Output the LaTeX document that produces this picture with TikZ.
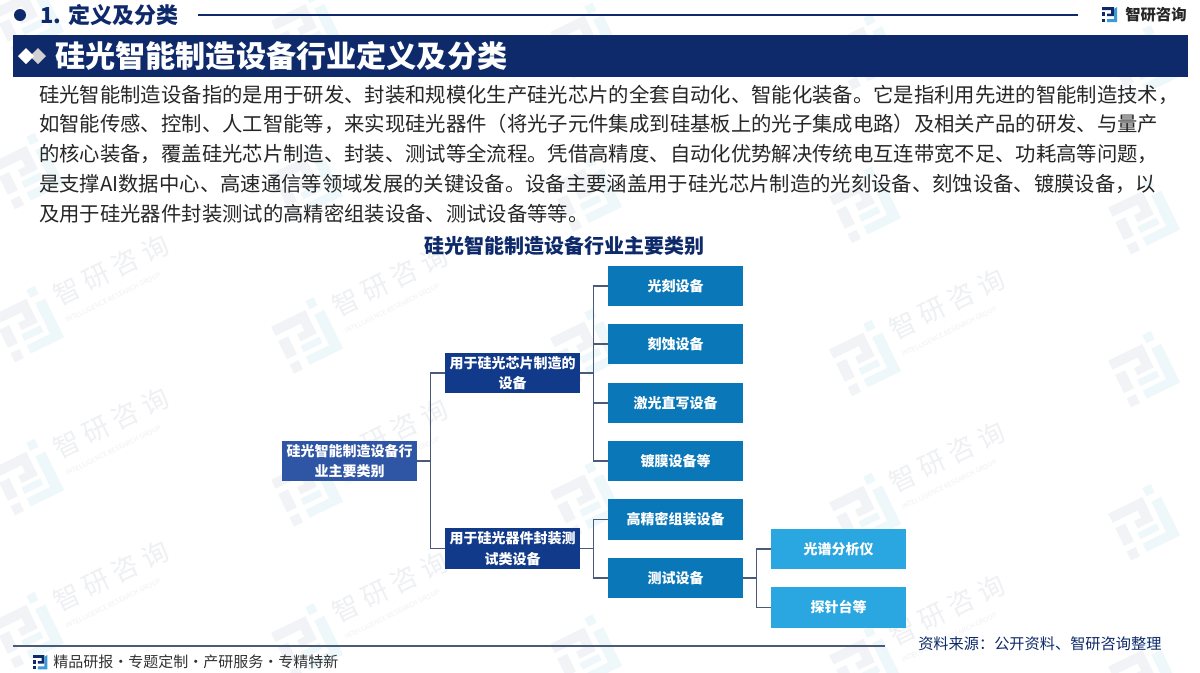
\documentclass[tikz,border=0pt]{standalone}
\usepackage{fontspec}
\setmainfont{Noto Sans CJK SC}
\definecolor{navy}{HTML}{0E2A6A}
\definecolor{rootc}{HTML}{2F55A5}
\definecolor{midc}{HTML}{123A8A}
\definecolor{leafc}{HTML}{0A78B8}
\definecolor{subc}{HTML}{2AA7E0}
\definecolor{linec}{HTML}{4A5A78}
\definecolor{wmg}{HTML}{F1F3F6}
\definecolor{wmb}{HTML}{EEF7FA}
\definecolor{wmt}{HTML}{EFF0F3}
\definecolor{logob}{HTML}{3C9AD6}
\tikzset{
 x=0.75pt,y=-0.75pt,
 boxbase/.style={minimum width=101.25pt,minimum height=30.4pt,inner sep=0pt,align=center,text=white,font=\fontsize{10.5pt}{15.5pt}\selectfont\bfseries},
 rootbox/.style={boxbase,fill=rootc},
 midbox/.style={boxbase,fill=midc},
 leafbox/.style={boxbase,fill=leafc},
 subbox/.style={boxbase,fill=subc},
 conn/.style={draw=linec,line width=0.9pt},
 bodyline/.style={anchor=west,inner sep=0pt,text=black!85,font=\fontsize{15.26pt}{18pt}\selectfont},
 pics/wmlogo/.style={code={
   \fill[wmg] (-28,-22) -- (10,-22) -- (10,4) -- (-8,4) -- (-8,-4) -- (0,-4) -- (0,-12) -- (-28,-12) -- cycle;
   \fill[wmg] (-28,-6) rectangle (-17,14);
   \fill[wmg] (-28,20) rectangle (-18,30);
   \fill[wmb] (14,-30) rectangle (23,-21);
   \fill[wmb] (16,-14) -- (27,-14) -- (27,29) -- (-10,29) -- (-10,20) -- (16,20) -- cycle;
   \fill[wmb] (-10,8) rectangle (11,15);
 }},
 pics/wmtext/.style={code={
   \node[wmt,inner sep=0pt,anchor=west,font=\fontsize{20pt}{20pt}\selectfont] at (36,-11) {智\hspace{4.5pt}研\hspace{4.5pt}咨\hspace{4.5pt}询};
   \node[wmt,inner sep=0pt,anchor=west,font=\fontsize{5pt}{6pt}\selectfont] at (36,15) {INTELLIGENCE RESEARCH GROUP};
 }},
 pics/brand/.style={code={
   \fill[navy] (0,0) -- (12,0) -- (12,9) -- (5,9) -- (5,6.5) -- (9,6.5) -- (9,3) -- (0,3) -- cycle;
   \fill[navy] (0,5) rectangle (3,9);
   \fill[navy] (0,12) rectangle (3,15);
   \fill[logob] (5,12) -- (12,12) -- (12,2) -- (15,0) -- (15,15) -- (5,15) -- cycle;
 }},
}
\begin{document}
\begin{tikzpicture}
\useasboundingbox (0,0) rectangle (1200,672);
\fill[white] (0,0) rectangle (1200,672);
% watermark logos
\foreach \i in {0,1,2,3,4}{
 \foreach \j in {-2,-1,0,1,2}{
  \pgfmathsetmacro{\px}{27+279*\i}
  \pgfmathsetmacro{\py}{323+11.3*\i+153*\j}
  \pic[rotate=26,transform shape] at (\px,\py) {wmlogo};
 }
}
% watermark texts, where the page is otherwise free
\foreach \px/\py in {27/323,306/334,863/357,27/476,306/487,863/510,27/629,306/640,863/663}{
  \pic[rotate=26,transform shape] at (\px,\py) {wmtext};
}
% header
\fill[navy] (20,15) circle (6);
\node[anchor=west,inner sep=0pt,text=navy,font=\fontsize{16.5pt}{18pt}\selectfont\bfseries] (sect) at (40,15) {1. 定义及分类};
\coordinate (ruleA) at (198,15);
\coordinate (ruleB) at (1078,15);
\draw[navy,line width=0.9pt] (ruleA) -- (ruleB);
\pic at (1102,7) {brand};
\node[anchor=west,inner sep=0pt,text=black!85,font=\fontsize{11.5pt}{14pt}\selectfont\bfseries] (brandname) at (1125,15) {智研咨询};
\fill[navy] (13,35) rectangle (1188,77);
\fill[white!82!black] (30,56) -- (38,48) -- (46,56) -- (38,64) -- cycle;
\fill[white] (18,56) -- (26,48) -- (34,56) -- (26,64) -- cycle;
\node[anchor=west,inner sep=0pt,text=white,font=\fontsize{22.6pt}{26pt}\selectfont\bfseries] (title) at (55,56) {硅光智能制造设备行业定义及分类};
% body
\node[bodyline] (l1) at (39,95) {硅光智能制造设备指的是用于研发、封装和规模化生产硅光芯片的全套自动化、智能化装备。它是指利用先进的智能制造技术，};
\node[bodyline] (l2) at (39,124) {如智能传感、控制、人工智能等，来实现硅光器件（将光子元件集成到硅基板上的光子集成电路）及相关产品的研发、与量产};
\node[bodyline] (l3) at (39,154) {的核心装备，覆盖硅光芯片制造、封装、测试等全流程。凭借高精度、自动化优势解决传统电互连带宽不足、功耗高等问题，};
\node[bodyline] (l4) at (39,184) {是支撑AI数据中心、高速通信等领域发展的关键设备。设备主要涵盖用于硅光芯片制造的光刻设备、刻蚀设备、镀膜设备，以};
\node[bodyline] (l5) at (39,214) {及用于硅光器件封装测试的高精密组装设备、测试设备等等。};
\node[inner sep=0pt,text=navy,font=\fontsize{15pt}{18pt}\selectfont\bfseries] (ctitle) at (564,246) {硅光智能制造设备行业主要类别};
% tree
\node[rootbox] (root) at (349.5,461) {硅光智能制造设备行\\业主要类别};
\node[midbox] (a) at (512.5,373) {用于硅光芯片制造的\\设备};
\node[midbox] (b) at (512.5,548.5) {用于硅光器件封装测\\试类设备};
\node[leafbox] (a1) at (675.5,286) {光刻设备};
\node[leafbox] (a2) at (675.5,344) {刻蚀设备};
\node[leafbox] (a3) at (675.5,403) {激光直写设备};
\node[leafbox] (a4) at (675.5,461) {镀膜设备等};
\node[leafbox] (b1) at (675.5,519.5) {高精密组装设备};
\node[leafbox] (b2) at (675.5,578) {测试设备};
\node[subbox] (c1) at (838.5,549) {光谱分析仪};
\node[subbox] (c2) at (838.5,607.5) {探针台等};
\foreach \t in {a,b}{\draw[conn] (root.east) -- ++(13.5,0) |- (\t.west);}
\foreach \t in {a1,a2,a3,a4}{\draw[conn] (a.east) -- ++(13.5,0) |- (\t.west);}
\foreach \t in {b1,b2}{\draw[conn] (b.east) -- ++(13.5,0) |- (\t.west);}
\foreach \t in {c1,c2}{\draw[conn] (b2.east) -- ++(13.5,0) |- (\t.west);}
% footer
\coordinate (footA) at (13,646);
\coordinate (footB) at (885,646);
\draw[linec,line width=1pt] (footA) -- (footB);
\pic[scale=0.95] at (33,655) {brand};
\node[anchor=west,inner sep=0pt,text=black!80,font=\fontsize{11.25pt}{13pt}\selectfont] (slog) at (53,662) {精品研报\makebox[11.25pt][c]{·}专题定制\makebox[11.25pt][c]{·}产研服务\makebox[11.25pt][c]{·}专精特新};
\node[anchor=west,inner sep=0pt,text=navy,font=\fontsize{11.4pt}{13pt}\selectfont] (src) at (918,644) {资料来源：公开资料、智研咨询整理};
\end{tikzpicture}
\end{document}
